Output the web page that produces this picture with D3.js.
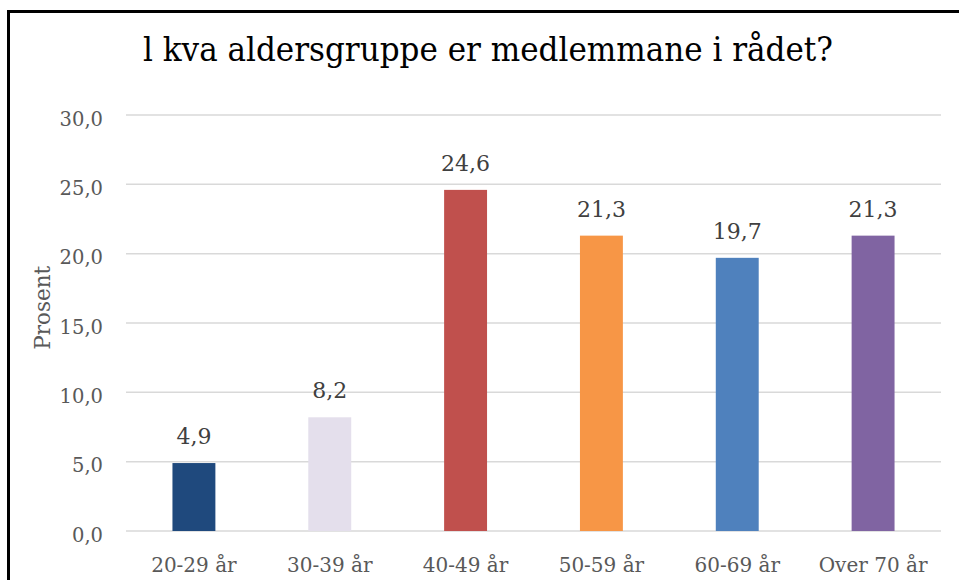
<!DOCTYPE html>
<html>
<head>
<meta charset="utf-8">
<script src="https://cdn.jsdelivr.net/npm/d3@7"></script>
<style>
  body { margin: 0; background: white; }
  #myPlot { width: 959px; height: 580px; }
</style>
</head>
<body>
<div id="myPlot"></div>
<script>
const rootSelector = "#myPlot"

const titleText = "l kva aldersgruppe er medlemmane i rådet?"
const yAxisTitle = "Prosent"
const categories = ["20-29 år", "30-39 år", "40-49 år", "50-59 år", "60-69 år", "Over 70 år"]
const values = [4.9, 8.2, 24.6, 21.3, 19.7, 21.3]
const barColors = ["#1F497D", "#E4DFEC", "#C0504D", "#F79646", "#4F81BD", "#8064A2"]
const yTicks = [0, 5, 10, 15, 20, 25, 30]

const clientWidth = 959
const clientHeight = 580
const margin = {top: 115, right: 18, bottom: 49, left: 126}
const width = clientWidth - margin.left - margin.right
const height = clientHeight - margin.top - margin.bottom
const font = "'DejaVu Serif', serif"
const fmt = v => v.toFixed(1).replace(".", ",")

const svg = d3.select(rootSelector).append("svg")
    .attr("width", clientWidth)
    .attr("height", clientHeight)

// frame, only top and left edges are visible
svg.append("rect")
    .attr("x", 8.5)
    .attr("y", 11.5)
    .attr("width", clientWidth + 20)
    .attr("height", clientHeight + 20)
    .attr("fill", "none")
    .attr("stroke", "#000")
    .attr("stroke-width", 3)

svg.append("text")
    .attr("x", 488)
    .attr("y", 61)
    .attr("text-anchor", "middle")
    .attr("font-family", "'DejaVu Serif Condensed', 'DejaVu Serif', serif")
    .attr("font-size", 34)
    .attr("fill", "#000")
    .attr("textLength", 690)
    .attr("lengthAdjust", "spacingAndGlyphs")
    .text(titleText)

const g = svg.append("g")
    .attr("transform", `translate(${margin.left}, ${margin.top})`)

const xScale = d3.scaleBand()
    .domain(categories)
    .range([0, width])
    .paddingInner(0.684)
    .paddingOuter(0.342)

const yScale = d3.scaleLinear()
    .domain([0, 30])
    .range([height, 0])

// gridlines
g.append("g")
    .selectAll("line")
    .data(yTicks)
    .enter().append("line")
    .attr("x1", 0)
    .attr("x2", width)
    .attr("y1", d => yScale(d))
    .attr("y2", d => yScale(d))
    .attr("stroke", "#D9D9D9")
    .attr("stroke-width", 1.5)

const yAxis = d3.axisLeft(yScale)
    .tickValues(yTicks)
    .tickFormat(fmt)
    .tickSize(0)
    .tickPadding(23)

const yG = g.append("g").call(yAxis)
yG.select(".domain").remove()
yG.selectAll("text")
    .attr("dy", "0.52em")
    .attr("font-family", font)
    .attr("font-size", 19.5)
    .attr("fill", "#595959")

const xAxis = d3.axisBottom(xScale).tickSize(0).tickPadding(27)
const xG = g.append("g")
    .attr("transform", `translate(0, ${height})`)
    .call(xAxis)
xG.select(".domain").remove()
xG.selectAll("text")
    .attr("font-family", font)
    .attr("font-size", 20)
    .attr("fill", "#595959")

g.selectAll(".bar")
    .data(values)
    .enter().append("rect")
    .attr("class", "bar")
    .attr("x", (d, i) => xScale(categories[i]))
    .attr("y", d => yScale(d))
    .attr("width", xScale.bandwidth())
    .attr("height", d => height - yScale(d))
    .attr("fill", (d, i) => barColors[i])

g.selectAll(".label")
    .data(values)
    .enter().append("text")
    .attr("class", "label")
    .attr("x", (d, i) => xScale(categories[i]) + xScale.bandwidth() / 2)
    .attr("y", d => yScale(d) - 19)
    .attr("text-anchor", "middle")
    .attr("font-family", font)
    .attr("font-size", 22)
    .attr("fill", "#404040")
    .text(fmt)

svg.append("text")
    .attr("transform", `translate(50, ${margin.top + yScale(16.1)}) rotate(-90)`)
    .attr("text-anchor", "middle")
    .attr("font-family", font)
    .attr("font-size", 21.5)
    .attr("fill", "#595959")
    .text(yAxisTitle)
</script>
</body>
</html>
